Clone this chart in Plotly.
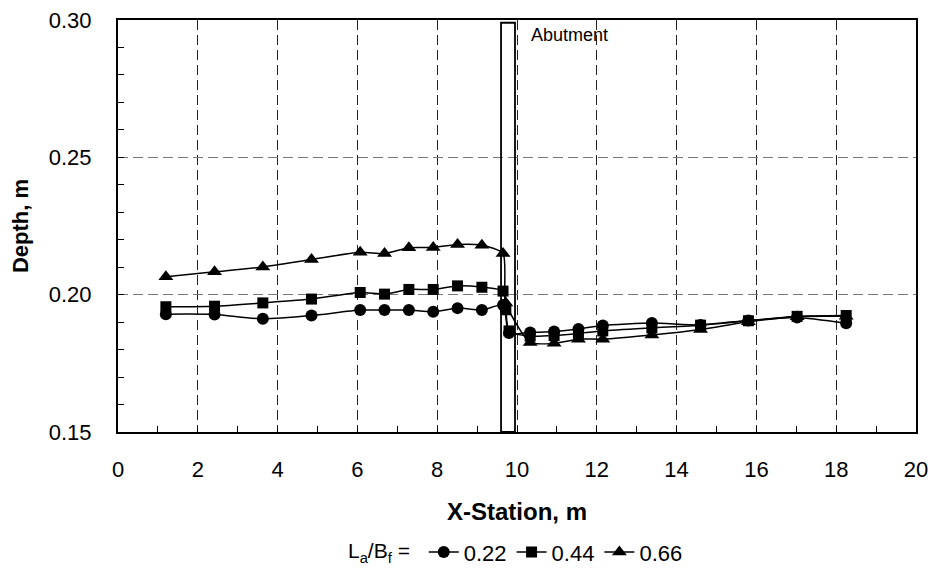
import plotly.graph_objects as go

# Data
x_c = [1.2, 2.42, 3.63, 4.85, 6.07, 6.68, 7.29, 7.9, 8.51, 9.12, 9.65, 9.8,
       10.33, 10.93, 11.54, 12.15, 13.38, 14.6, 15.8, 17.02, 18.25]
y_c = [0.1929, 0.1928, 0.1912, 0.1924, 0.1944, 0.1944, 0.1944, 0.1938, 0.1951, 0.1944, 0.1962, 0.1860,
       0.1862, 0.1866, 0.1875, 0.1888, 0.1897, 0.1890, 0.1906, 0.1917, 0.1896]

x_s = [1.2, 2.42, 3.63, 4.85, 6.07, 6.68, 7.29, 7.9, 8.51, 9.12, 9.65, 9.72, 9.8,
       10.33, 10.93, 11.54, 12.15, 13.38, 14.6, 15.8, 17.02, 18.25]
y_s = [0.1956, 0.1958, 0.1970, 0.1984, 0.2008, 0.2002, 0.2019, 0.2019, 0.2032, 0.2027, 0.2013, 0.1945, 0.1868,
       0.1849, 0.1851, 0.1859, 0.1868, 0.1879, 0.1889, 0.1905, 0.1921, 0.1924]

x_t = [1.2, 2.42, 3.63, 4.85, 6.07, 6.68, 7.29, 7.9, 8.51, 9.12, 9.65, 9.72,
       10.33, 10.93, 11.54, 12.15, 13.38, 14.6, 15.8, 17.02, 18.25]
y_t = [0.2065, 0.2083, 0.2101, 0.2128, 0.2154, 0.2150, 0.2171, 0.2172, 0.2183, 0.2180, 0.2150, 0.1970,
       0.1826, 0.1823, 0.1838, 0.1838, 0.1853, 0.1873, 0.1901, 0.1920, 0.1921]

names = ["0.22", "0.44", "0.66"]
abut_x = [9.6, 9.95]
abut_y = [0.15, 0.299]

FONT = "Arial, 'Liberation Sans', sans-serif"

fig = go.Figure()
series = [(x_c, y_c, "circle", 12), (x_s, y_s, "square", 11), (x_t, y_t, "triangle-up", 13)]
for (xs, ys, sym, sz), nm in zip(series, names):
    fig.add_trace(go.Scatter(
        x=xs, y=ys, name=nm, mode="lines+markers",
        line=dict(color="black", width=1.5, shape="spline", smoothing=0.6),
        marker=dict(symbol=sym, size=sz, color="black"),
    ))

fig.add_shape(type="rect", x0=abut_x[0], x1=abut_x[1], y0=abut_y[0], y1=abut_y[1],
              line=dict(color="black", width=1.8), fillcolor="rgba(0,0,0,0)", layer="above")
fig.add_annotation(x=10.3, y=0.2945, text="Abutment", showarrow=False, xanchor="left",
                   font=dict(family=FONT, size=18, color="black"))

axis_common = dict(
    showline=True, linecolor="black", linewidth=2, mirror=True,
    showgrid=True, gridwidth=1, griddash="10px,5px",
    ticks="inside", ticklen=6, tickcolor="black", tickwidth=1,
    tickfont=dict(family=FONT, size=22, color="black"),
    zeroline=False,
)
fig.update_xaxes(range=[0, 20], dtick=2, tick0=0, gridcolor="#222",
                 minor=dict(dtick=1, ticks="inside", ticklen=6, tickcolor="black", showgrid=False),
                 title=dict(text="<b>X-Station, m</b>", font=dict(family=FONT, size=24, color="black"), standoff=22),
                 ticklabelstandoff=17,
                 **axis_common)
fig.update_yaxes(range=[0.15, 0.30], dtick=0.05, tickformat=".2f", gridcolor="#777",
                 minor=dict(dtick=0.01, ticks="inside", ticklen=6, tickcolor="black", showgrid=False),
                 title=dict(text="<b>Depth, m</b>", font=dict(family=FONT, size=22, color="black"), standoff=14),
                 ticklabelstandoff=20,
                 **axis_common)

fig.update_layout(
    width=935, height=577,
    margin=dict(l=118, r=19, t=20, b=145, autoexpand=False),
    plot_bgcolor="white", paper_bgcolor="white",
    font=dict(family=FONT, color="black"),
    showlegend=True,
    legend=dict(orientation="h", x=0.5, xanchor="center", yref="container", y=0.043, yanchor="middle",
                title=dict(text="L<sub>a</sub>/B<sub>f</sub> = ", side="left", font=dict(size=21)),
                font=dict(size=22), itemwidth=30, tracegroupgap=0),
)

fig.write_html("out.html")
